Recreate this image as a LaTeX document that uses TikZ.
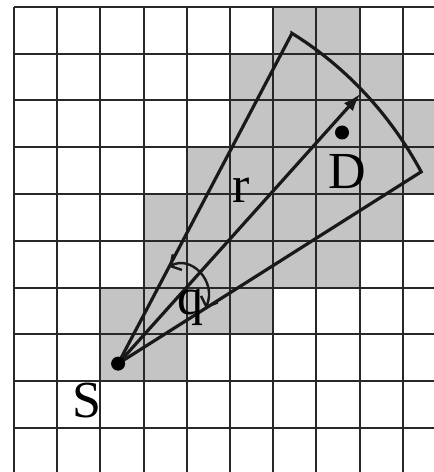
\documentclass[tikz,border=0pt]{standalone}
\usepackage{fontspec}
\setmainfont{Liberation Serif}
\usetikzlibrary{arrows.meta}
\definecolor{cellgray}{RGB}{196,196,196}
\definecolor{gridline}{RGB}{40,40,40}
\begin{document}
\begin{tikzpicture}[x=21.6pt,y=23.4pt,
  gridln/.style={draw=gridline,line width=1pt},
  ray/.style={draw=black!90,line width=1.6pt,line join=miter},
  dot/.style={circle,fill=black,inner sep=0pt,minimum size=7pt},
  lbl/.style={font=\fontsize{26}{26}\selectfont,inner sep=0pt,anchor=base},
  barb/.style={draw=black!90,line width=1.2pt,
    {Straight Barb[length=4pt,width=9pt]}-{Straight Barb[length=4pt,width=9pt]}}]
\useasboundingbox (-0.324,-0.940) rectangle (9.722,9.145);
\clip (-0.324,-0.940) rectangle (9.722,9.145);
% shaded cells (row from top / first column / last column)
\foreach \r/\a/\b in {0/6/7,1/5/8,2/5/9,3/4/9,4/3/8,5/3/7,6/2/5,7/2/3}
  \fill[cellgray] (\a,8-\r) rectangle (\b+1,9-\r);
% grid
\foreach \i in {0,...,9} \draw[gridln] (\i,-0.94) -- (\i,9);
\foreach \j in {0,...,9} \draw[gridln] (0,\j) -- (9.722,\j);
% points
\coordinate (S0) at (2.41,1.375);
\path (S0) ++(60.3:8.125) coordinate (A);
\path (S0) ++(30.3:8.125) coordinate (B);
\path (S0) ++(45.8:8.05) coordinate (T);
\path (S0) ++(60.3:2.38) coordinate (qa);
\path (S0) ++(30.3:2.35) coordinate (qb);
% sector
\draw[ray] (S0) -- (A) -- plot[domain=60.3:30.3,samples=50]
  ({2.41+8.125*cos(\x)},{1.375+8.125*sin(\x)}) -- cycle;
\draw[ray,-{Latex[length=9pt,width=6pt]}] (S0) -- (T);
% angle arc
\draw[barb] (qa) .. controls (4.074,3.70) and (4.70,3.16) .. (qb);
% dots
\node[dot] (S) at (S0) {};
\node[dot] (D) at (7.593,6.314) {};
% labels
\node[lbl] (Slbl) at (1.690,0.235) {S};
\node[lbl] (Dlbl) at (7.708,5.128) {D};
\node[lbl] (rlbl) at (5.255,4.808) {r};
\node[lbl] (qlbl) at (4.074,2.415) {q};
\end{tikzpicture}
\end{document}
